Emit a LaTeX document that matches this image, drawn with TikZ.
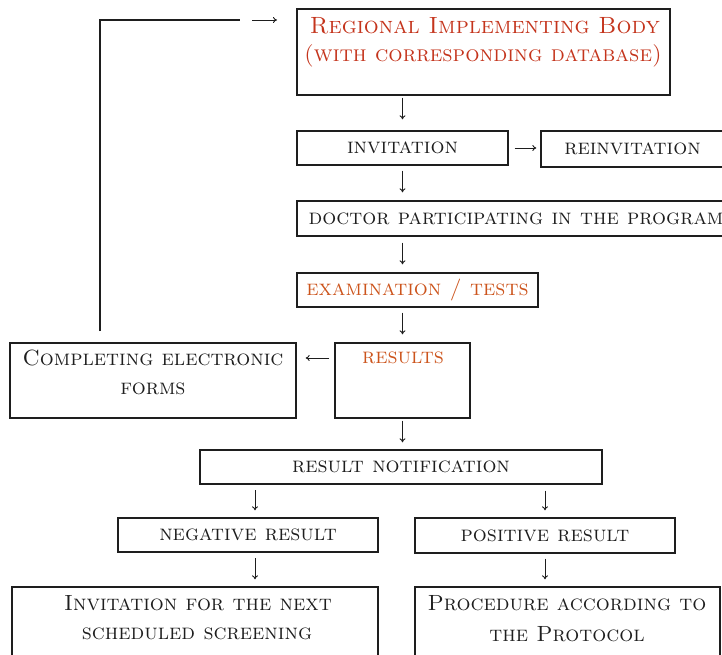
\documentclass[tikz,border=0pt]{standalone}
\usetikzlibrary{calc,arrows.meta}
\definecolor{redtxt}{RGB}{196,52,28}
\definecolor{orgtxt}{RGB}{204,84,28}
\definecolor{linec}{RGB}{30,30,30}
\tikzset{
  box/.style={draw=linec, line width=1.3pt, rectangle, inner sep=0pt, font=\fontsize{22}{26}\selectfont\scshape, text=linec},
  txt/.style={inner sep=0pt, font=\fontsize{22}{26}\selectfont\scshape, text=linec},
  arr/.style={draw=linec, line width=0.9pt, -{To[length=4pt,width=6pt]}},
  plainline/.style={draw=linec, line width=1.1pt}
}
\begin{document}
\begin{tikzpicture}[x=1pt,y=-1pt]
\useasboundingbox (0,0) rectangle (722,654);
\clip (0,0) rectangle (722,654);
% boxes
\node[box, minimum width=373pt, minimum height=86pt] (reg) at (483.5,52) {};
\node[txt, text=redtxt, font=\fontsize{23.5}{27}\selectfont\scshape] (regt1) at (485,26) {Regional Implementing Body};
\node[txt, text=redtxt, font=\fontsize{22.5}{27}\selectfont\scshape] (regt2) at (483,56) {(with corresponding database)};
\node[box, minimum width=211pt, minimum height=34pt] (inv) at (402.5,148) {invitation};
\node[box, minimum width=183pt, minimum height=36pt] (reinv) at (632.5,149) {reinvitation};
\node[box, minimum width=427pt, minimum height=35pt] (doc) at (510.5,218.5) {};
\node[txt] (doct) at (516,218.5) {doctor participating in the program};
\node[box, minimum width=241pt, minimum height=34pt, text=orgtxt] (exam) at (417.5,290) {examination / tests};
\node[box, minimum width=135pt, minimum height=75pt] (res) at (402.5,380.5) {};
\node[txt, text=orgtxt] (rest) at (403,358) {results};
\node[box, minimum width=286pt, minimum height=75pt] (comp) at (153,380.5) {};
\node[txt] (compt1) at (153,358) {Completing electronic};
\node[txt] (compt2) at (153,389) {forms};
\node[box, minimum width=402pt, minimum height=34pt] (notif) at (401,467) {result notification};
\node[box, minimum width=260pt, minimum height=34pt] (neg) at (248,535) {negative result};
\node[box, minimum width=260pt, minimum height=35pt] (pos) at (545,535.5) {positive result};
\node[box, minimum width=366pt, minimum height=83pt] (next) at (195,628.5) {};
\node[txt] (nextt1) at (198,603) {Invitation for the next};
\node[txt] (nextt2) at (197,634) {scheduled screening};
\node[box, minimum width=305pt, minimum height=83pt] (proc) at (567.5,628.5) {};
\node[txt] (proct1) at (567,603) {Procedure according to};
\node[txt] (proct2) at (567,634) {the Protocol};
% arrows
\draw[arr, shorten <=2pt, shorten >=11pt] (inv.north |- reg.south) -- (inv.north);
\draw[arr, shorten <=6pt, shorten >=4pt] (inv.east) -- (inv.east -| reinv.west);
\draw[arr, shorten <=5pt, shorten >=8pt] (inv.south) -- (inv.south |- doc.north);
\draw[arr, shorten <=6pt, shorten >=8pt] (inv.south |- doc.south) -- (inv.south |- exam.north);
\draw[arr, shorten <=5pt, shorten >=8pt] (inv.south |- exam.south) -- (res.north);
\draw[arr, shorten <=5pt, shorten >=9pt] (res.west |- rest) -- (comp.east |- rest);
\draw[arr, shorten <=2pt, shorten >=7pt] (res.south) -- (res.south |- notif.north);
\draw[arr, shorten <=6pt, shorten >=7pt] (255,484) coordinate (n1) -- (n1 |- neg.north);
\draw[arr, shorten <=6pt, shorten >=7pt] (pos.north |- notif.south) -- (pos.north);
\draw[arr, shorten <=6pt, shorten >=7pt] (255,552) coordinate (n2) -- (n2 |- next.north);
\draw[arr, shorten <=5pt, shorten >=7pt] (pos.south) -- (pos.south |- proc.north);
% feedback loop
\coordinate (fb1) at (100,331);
\coordinate (fb2) at (100,20);
\coordinate (fb3) at (240,20);
\coordinate (fb4) at (252,20);
\coordinate (fb5) at (277,20);
\draw[plainline] (fb1) -- (fb2) -- (fb3);
\draw[arr] (fb4) -- (fb5);
\end{tikzpicture}
\end{document}
